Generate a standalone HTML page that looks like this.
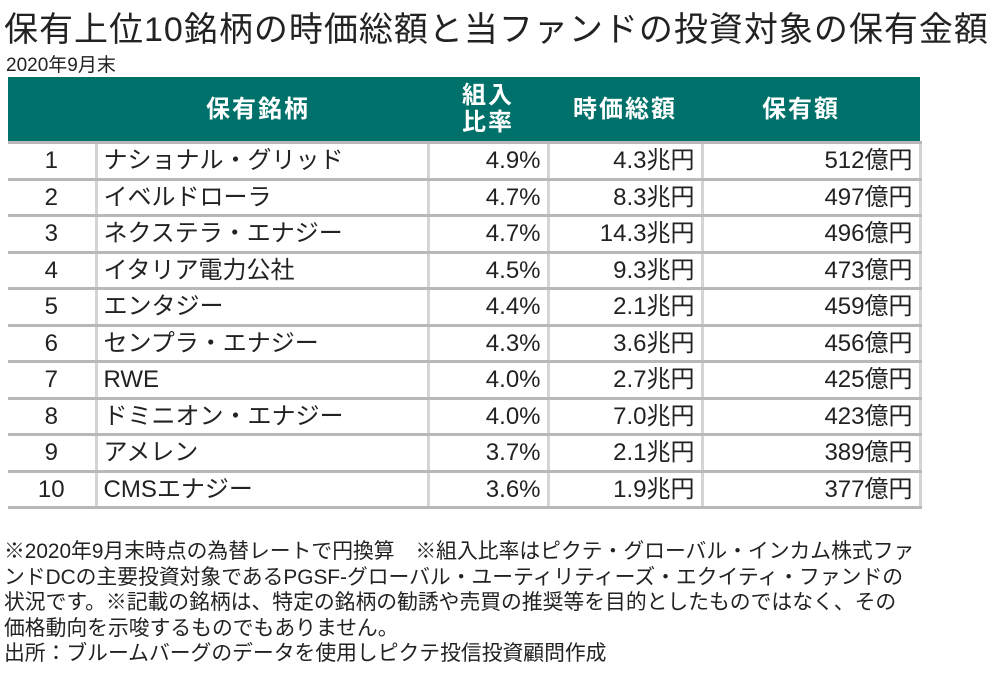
<!DOCTYPE html>
<html><head><meta charset="utf-8"><style>
body{margin:0;width:1001px;height:678px;background:#fff;font-family:"Liberation Sans","Noto Sans CJK JP",sans-serif;color:#222;position:relative;overflow:hidden}
.t{position:absolute;white-space:nowrap}
table{position:absolute;left:8px;top:77px;border-collapse:collapse;font-size:24px}
th{background:#00716a;color:#fff;font-weight:bold;height:64px;font-size:24px;line-height:27px;letter-spacing:2px;padding:0}
td{height:33.5px;border-bottom:3px solid #b8b8b8;border-left:3px solid #d4d4d4;border-right:3px solid #d4d4d4;padding:0 6px;line-height:33px}
tr.h th{border-bottom:3px solid #b8b8b8}
td.r{text-align:right}td.c{text-align:center}
</style></head><body>
<div class="t" style="left:4px;top:2px;font-size:34px;letter-spacing:1px">保有上位10銘柄の時価総額と当ファンドの投資対象の保有金額</div>
<div class="t" style="left:6px;top:50px;font-size:19px">2020年9月末</div>
<table>
<tr class="h"><th style="width:88px"></th><th style="width:332px;text-align:left;padding-left:110px;box-sizing:border-box">保有銘柄</th><th style="width:120px">組入<br>比率</th><th style="width:154px">時価総額</th><th style="width:218px;text-align:left;padding-left:60px;box-sizing:border-box">保有額</th></tr>
<tbody id="tb"></tbody>
</table>
<div class="t" style="left:4px;top:539px;font-size:20.8px;line-height:25.5px">※2020年9月末時点の為替レートで円換算　※組入比率はピクテ・グローバル・インカム株式ファ<br>ンドDCの主要投資対象であるPGSF-グローバル・ユーティリティーズ・エクイティ・ファンドの<br>状況です。※記載の銘柄は、特定の銘柄の勧誘や売買の推奨等を目的としたものではなく、その<br>価格動向を示唆するものでもありません。<br>出所：ブルームバーグのデータを使用しピクテ投信投資顧問作成</div>
<script>
const names=["ナショナル・グリッド","イベルドローラ","ネクステラ・エナジー","イタリア電力公社","エンタジー","センプラ・エナジー","RWE","ドミニオン・エナジー","アメレン","CMSエナジー"];
const weights=[4.9,4.7,4.7,4.5,4.4,4.3,4.0,4.0,3.7,3.6];
const caps=[4.3,8.3,14.3,9.3,2.1,3.6,2.7,7.0,2.1,1.9];
const holdings=[512,497,496,473,459,456,425,423,389,377];
const tb=document.getElementById('tb');
names.forEach((n,i)=>{
const tr=document.createElement('tr');


tr.innerHTML=`<td class="c" style="border-left:none">${i+1}</td><td>${n}</td><td class="r">${weights[i].toFixed(1)}%</td><td class="r">${caps[i].toFixed(1)}兆円</td><td class="r">${holdings[i]}億円</td>`;
tb.appendChild(tr);
});
</script>
</body></html>
